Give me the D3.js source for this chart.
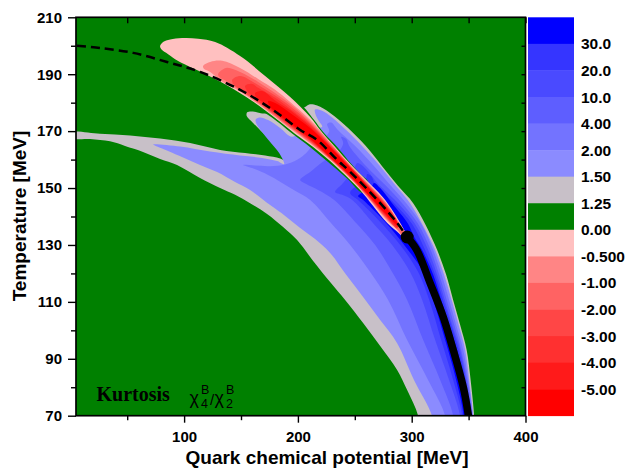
<!DOCTYPE html>
<html lang="en">
<head>
<meta charset="UTF-8">
<title>Kurtosis chi4/chi2 in the T-mu plane</title>
<script src="https://cdn.jsdelivr.net/npm/d3@7"></script>
<style>
    body { margin: 0; background: #fff; }
    svg { display: block; }
    .axis text {
        font-family: "Liberation Sans", Arial, sans-serif;
        font-weight: bold;
        font-size: 15px;
        fill: #000;
    }
    .axis line { stroke: #000; stroke-width: 1.4px; }
    .label {
        font-family: "Liberation Sans", Arial, sans-serif;
        font-weight: bold;
        font-size: 19px;
    }
    .barlabel {
        font-family: "Liberation Sans", Arial, sans-serif;
        font-weight: bold;
        font-size: 15.5px;
    }
</style>
</head>
<body>
<script>
// ---- axes / legend values ----
const xTicks = [100, 200, 300, 400];
const xMinor = [50, 150, 250, 350];
const yTicks = [70, 90, 110, 130, 150, 170, 190, 210];
const yMinor = [80, 100, 120, 140, 160, 180, 200];
const yRight = [80, 90, 100, 110, 120, 130, 140, 150, 160, 170, 180, 190, 200];

const barLabels = ["30.0", "20.0", "10.0", "4.00", "2.00", "1.50", "1.25", "0.00",
                   "-0.500", "-1.00", "-2.00", "-3.00", "-4.00", "-5.00"];
const barColors = ["#0000ff", "#3535ff", "#4a4aff", "#5e5eff", "#7373ff", "#8b8bff",
                   "#c8c0c8", "#008000",
                   "#ffc0c0", "#ff8585", "#ff6363", "#ff4646", "#ff3030", "#ff1a1a", "#ff0000"];

// ---- contour regions, [mu (MeV), T (MeV)] ----
const reg125 = [[-0.2,169.5],[26.1,169.1],[52.5,168.5],[78.9,167.4],[105.3,165.8],[131.6,163.4],[153.6,162.3],[171.2,161.4],[184.4,160.4],[191.4,159.2],[187.0,162.7],[179.1,165.8],[169.4,169.3],[160.6,172.9],[155.0,175.3],[155.4,176.6],[160.4,176.9],[168.5,176.2],[188.8,176.7],[206.3,178.5],[209.9,179.4],[216.9,179.0],[228.3,176.4],[244.1,171.1],[259.1,165.0],[274.0,157.7],[288.1,150.7],[301.3,144.7],[311.8,137.4],[322.4,128.2],[330.3,119.5],[336.4,110.7],[342.6,101.9],[348.3,93.1],[351.8,82.5],[354.9,69.9],[355.8,61.5],[308.3,61.5],[305.7,69.9],[296.0,79.0],[287.2,86.1],[272.3,94.5],[257.3,102.6],[241.5,110.7],[228.3,117.0],[213.4,124.4],[199.3,131.7],[187.0,136.3],[172.9,140.9],[158.0,144.7],[144.8,147.6],[131.6,150.0],[114.0,153.5],[93.8,158.1],[78.9,160.2],[63.9,162.7],[48.1,164.8],[34.9,166.4],[17.4,167.2],[-0.2,167.6]];

const reg150 = [[72.7,165.3],[96.5,164.6],[122.8,162.8],[149.2,161.4],[168.5,160.6],[181.7,159.5],[187.9,158.4],[183.5,162.3],[175.6,166.2],[168.5,169.7],[163.6,172.5],[162.9,174.1],[166.3,174.8],[173.8,173.9],[184.4,171.1],[194.9,168.0],[206.4,171.1],[221.3,171.5],[217.8,173.9],[215.1,176.4],[215.1,177.6],[221.3,177.2],[230.1,174.8],[242.4,170.4],[255.6,165.1],[271.4,158.1],[285.5,151.1],[298.6,144.7],[309.2,137.4],[320.6,128.2],[328.5,119.5],[335.1,110.7],[341.3,101.9],[347.0,93.1],[350.5,82.5],[354.0,69.9],[354.9,61.5],[321.5,61.5],[318.0,69.9],[302.1,82.5],[287.2,95.5],[272.3,103.6],[257.3,111.7],[242.4,119.5],[228.3,127.2],[215.1,132.1],[202.0,136.0],[188.8,140.2],[175.6,144.0],[158.0,149.3],[144.8,152.1],[129.0,155.6],[114.0,158.1],[99.1,160.7],[85.9,163.0],[76.2,164.6]];

const reg200 = [[151.9,158.1],[162.4,157.9],[175.6,157.7],[188.8,158.3],[199.3,159.9],[207.3,162.3],[213.4,165.1],[223.1,167.6],[227.5,170.0],[225.7,172.5],[229.2,173.0],[234.5,170.7],[250.3,164.8],[267.0,157.7],[281.9,150.7],[295.2,144.7],[308.4,137.4],[318.9,128.2],[326.4,119.5],[332.9,110.7],[339.1,101.9],[345.3,93.1],[349.7,82.5],[353.6,69.9],[354.1,61.5],[330.3,61.5],[329.4,69.9],[314.5,82.5],[296.0,96.6],[279.3,110.7],[263.5,120.5],[245.9,130.0],[228.3,138.1],[210.8,145.8],[194.9,149.7],[173.8,154.6],[159.8,157.0]];

const reg400 = [[202.0,152.8],[210.8,155.6],[219.6,158.5],[226.6,160.6],[231.0,161.6],[237.1,163.4],[239.8,165.8],[238.0,168.0],[242.4,167.2],[245.1,164.8],[260.0,157.7],[277.6,150.7],[291.6,144.7],[305.7,137.4],[316.7,128.2],[324.2,119.5],[330.8,110.7],[337.4,101.9],[343.5,93.1],[348.8,82.5],[353.2,69.9],[353.6,61.5],[337.4,61.5],[336.5,69.9],[325.1,82.5],[310.1,96.6],[296.0,110.7],[282.8,120.5],[267.9,130.0],[250.3,138.1],[231.9,145.8],[217.8,149.3],[207.3,151.4]];

const reg1000 = [[232.7,148.6],[238.9,151.4],[244.1,153.9],[247.7,155.7],[250.3,157.7],[252.1,158.8],[257.3,157.7],[272.3,150.7],[288.1,144.7],[303.0,137.4],[314.5,128.2],[322.4,119.5],[329.0,110.7],[335.6,101.9],[342.6,93.1],[347.9,82.5],[352.8,69.9],[353.2,61.5],[343.5,61.5],[342.6,69.9],[332.9,82.5],[320.6,96.6],[309.2,110.7],[298.6,120.5],[282.8,130.0],[265.2,138.1],[247.7,145.8],[238.9,147.6]];

const reg2000 = [[245.9,148.3],[251.2,150.7],[254.7,151.8],[260.0,153.5],[260.9,154.9],[264.4,154.2],[268.8,150.7],[284.6,144.7],[300.4,137.4],[311.8,128.2],[320.6,119.5],[327.6,110.7],[334.7,101.9],[341.3,93.1],[347.4,82.5],[352.8,69.9],[353.2,61.5],[345.3,61.5],[344.4,69.9],[336.5,82.5],[325.9,96.6],[315.4,110.7],[305.7,120.5],[289.9,130.0],[272.3,138.1],[252.9,145.8]];

const reg3000 = [[252.9,147.2],[258.2,148.6],[263.5,149.3],[267.0,151.8],[272.3,150.0],[282.8,144.7],[296.9,137.4],[302.2,132.8],[309.2,128.2],[318.9,119.5],[325.9,110.7],[332.9,101.9],[339.9,93.1],[346.5,82.5],[352.3,69.9],[352.8,61.5],[346.5,61.5],[345.7,69.9],[339.1,82.5],[329.4,96.6],[318.9,110.7],[310.1,120.5],[293.4,130.0],[276.7,138.1],[257.3,145.8]];

// thin 0..1.25 sliver between the two positive lobes and the negative tongue
const gapZero = [[153.6,180.9],[159.8,177.8],[168.6,176.9],[180.0,173.9],[193.2,169.7],[206.4,165.7],[219.6,161.4],[232.7,157.0],[244.1,153.0],[256.5,148.3],[263.5,148.6],[260.8,152.8],[255.6,154.6],[246.8,158.5],[235.3,164.1],[223.0,169.3],[214.3,173.9],[208.1,177.1],[204.6,178.8],[202.0,181.3],[184.4,182.7]];

const neg000 = [[78.9,199.9],[81.5,201.3],[87.7,202.2],[98.2,202.7],[112.3,202.5],[127.3,201.3],[149.2,196.4],[171.2,189.4],[193.2,182.0],[210.8,175.0],[219.6,170.4],[232.7,164.4],[245.9,158.5],[260.9,152.5],[268.8,149.3],[276.7,145.8],[287.3,139.5],[293.4,135.3],[296.9,132.8],[293.4,132.5],[287.3,134.6],[278.5,137.7],[266.1,143.7],[254.7,149.3],[241.5,154.6],[228.3,159.5],[213.4,164.4],[197.6,169.0],[180.0,174.6],[159.8,180.6],[138.7,185.9],[118.5,190.1],[103.5,192.9],[92.1,195.3],[84.2,197.5],[79.8,198.9]];

const neg050 = [[116.7,192.9],[122.9,194.3],[133.4,194.7],[149.2,192.2],[165.1,188.3],[180.0,184.5],[193.2,180.2],[210.8,173.9],[228.3,166.0],[245.9,158.1],[260.9,152.0],[276.7,145.3],[287.3,138.9],[295.2,133.2],[293.4,132.8],[287.3,135.3],[276.7,139.3],[260.9,146.9],[245.9,153.4],[228.3,160.0],[210.8,165.7],[193.2,170.9],[180.0,175.0],[165.1,179.5],[149.2,183.9],[133.4,187.4],[122.9,190.8],[117.6,191.8]];

const neg100 = [[129.9,190.1],[136.9,192.2],[149.2,190.8],[165.1,187.3],[180.0,183.4],[193.2,179.5],[210.8,173.2],[228.3,165.7],[245.9,157.9],[260.9,151.7],[276.7,144.9],[287.3,138.6],[295.2,133.0],[293.4,132.8],[287.3,135.4],[276.7,139.7],[260.9,147.1],[245.9,153.6],[228.3,160.2],[210.8,166.0],[193.2,171.3],[180.0,175.3],[165.1,179.9],[149.2,184.3],[136.9,187.6],[130.8,189.0]];

const neg200 = [[142.2,188.0],[149.2,189.4],[165.1,186.2],[180.0,182.5],[193.2,178.7],[210.8,172.7],[228.3,165.3],[245.9,157.7],[260.9,151.4],[276.7,144.6],[287.3,138.2],[287.3,135.8],[276.7,140.0],[260.9,147.4],[245.9,153.8],[228.3,160.4],[210.8,166.4],[193.2,171.6],[180.0,175.7],[165.1,180.2],[149.2,184.6],[143.1,186.6]];

const neg300 = [[153.6,185.9],[159.8,186.6],[165.1,185.2],[180.0,181.7],[193.2,177.9],[210.8,172.2],[228.3,165.0],[245.9,157.5],[260.9,151.1],[276.7,144.2],[287.3,137.9],[287.3,136.0],[276.7,140.4],[260.9,147.6],[245.9,154.0],[228.3,160.6],[210.8,166.7],[193.2,172.0],[180.0,176.0],[165.1,180.6],[155.4,184.1]];

const neg400 = [[162.4,183.4],[168.6,184.1],[180.0,180.8],[193.2,177.3],[210.8,171.6],[228.3,164.6],[245.9,157.3],[260.9,150.9],[276.7,143.9],[288.1,137.4],[288.1,136.2],[276.7,140.7],[260.9,147.9],[245.9,154.1],[228.3,160.7],[210.8,167.1],[193.2,172.3],[180.0,176.4],[168.6,180.2],[163.3,182.0]];

const neg500 = [[173.8,180.6],[180.0,179.9],[193.2,176.4],[210.8,171.1],[228.3,164.4],[245.9,157.1],[260.9,150.7],[276.7,143.5],[289.9,136.3],[289.9,136.0],[276.7,141.1],[260.9,148.1],[245.9,154.3],[228.3,160.9],[210.8,167.4],[193.2,172.9],[180.0,176.7],[174.7,179.2]];

// crossover (dashed), first order line (solid) and critical point
const crossover = [[5.9,200.0],[26.2,199.2],[55.2,197.5],[85.0,194.3],[114.1,190.8],[149.2,184.5],[178.2,177.4],[202.0,170.4],[216.9,166.9],[234.5,159.9],[245.9,155.7],[272.3,144.7],[287.3,137.7],[296.0,132.8]];
const firstOrder = [[296.0,132.8],[304.5,128.2],[316.2,116.6],[327.7,104.7],[336.5,93.1],[345.3,80.1],[349.9,69.9],[351.4,65.0]];
const critPoint = [296.0, 132.8];

// ---- layout ----
const width = 627, height = 472;
const x = d3.scaleLinear().domain([5, 400]).range([76, 525.5]);
const y = d3.scaleLinear().domain([70, 210]).range([415.7, 17.3]);

const svg = d3.select("body").append("svg")
    .attr("width", width).attr("height", height);

svg.append("defs").append("clipPath").attr("id", "plotclip")
    .append("rect")
    .attr("x", x(5)).attr("y", y(210))
    .attr("width", x(400) - x(5)).attr("height", y(70) - y(210));

const plot = svg.append("g").attr("clip-path", "url(#plotclip)");

plot.append("rect")
    .attr("x", x(5)).attr("y", y(210))
    .attr("width", x(400) - x(5)).attr("height", y(70) - y(210))
    .attr("fill", barColors[7]);

const shape = d3.line()
    .x(d => x(d[0])).y(d => y(d[1]))
    .curve(d3.curveCatmullRomClosed.alpha(0.5));

const layers = [
    {pts: reg125, fill: barColors[6]},
    {pts: reg150, fill: barColors[5]},
    {pts: reg200, fill: barColors[4]},
    {pts: reg400, fill: barColors[3]},
    {pts: reg1000, fill: barColors[2]},
    {pts: reg2000, fill: barColors[1]},
    {pts: reg3000, fill: barColors[0]},
    {pts: gapZero, fill: barColors[7]},
    {pts: neg000, fill: barColors[8]},
    {pts: neg050, fill: barColors[9]},
    {pts: neg100, fill: barColors[10]},
    {pts: neg200, fill: barColors[11]},
    {pts: neg300, fill: barColors[12]},
    {pts: neg400, fill: barColors[13]},
    {pts: neg500, fill: barColors[14]}
];

plot.selectAll("path.region")
    .data(layers)
    .join("path")
    .attr("class", "region")
    .attr("d", d => shape(d.pts))
    .attr("fill", d => d.fill);

const curve = d3.line()
    .x(d => x(d[0])).y(d => y(d[1]))
    .curve(d3.curveCatmullRom.alpha(0.5));

plot.append("path")
    .attr("d", curve(crossover))
    .attr("fill", "none").attr("stroke", "#000")
    .attr("stroke-width", 2.5).attr("stroke-dasharray", "9,5");

plot.append("path")
    .attr("d", curve(firstOrder))
    .attr("fill", "none").attr("stroke", "#000")
    .attr("stroke-width", 7.5).attr("stroke-linecap", "round");

plot.append("circle")
    .attr("cx", x(critPoint[0])).attr("cy", y(critPoint[1]))
    .attr("r", 6.5).attr("fill", "#000");

// ---- axes ----
const axes = svg.append("g").attr("class", "axis");

axes.append("g")
    .attr("transform", `translate(0,${y(70)})`)
    .call(d3.axisBottom(x).tickValues(xTicks).tickSize(7).tickPadding(8.5).tickFormat(d3.format("d")))
    .call(g => g.select(".domain").remove());
axes.append("g")
    .attr("transform", `translate(0,${y(70)})`)
    .call(d3.axisBottom(x).tickValues(xMinor).tickSize(4.5).tickFormat(""))
    .call(g => g.select(".domain").remove());
axes.append("g")
    .attr("transform", `translate(0,${y(210)})`)
    .call(d3.axisTop(x).tickValues(xTicks.concat(xMinor)).tickSize(-6).tickFormat(""))
    .call(g => g.select(".domain").remove());

axes.append("g")
    .attr("transform", `translate(${x(5)},0)`)
    .call(d3.axisLeft(y).tickValues(yTicks).tickSize(8).tickPadding(6).tickFormat(d3.format("d")))
    .call(g => g.select(".domain").remove());
axes.append("g")
    .attr("transform", `translate(${x(5)},0)`)
    .call(d3.axisLeft(y).tickValues(yMinor).tickSize(5).tickFormat(""))
    .call(g => g.select(".domain").remove());
axes.append("g")
    .attr("transform", `translate(${x(400)},0)`)
    .call(d3.axisRight(y).tickValues(yRight).tickSize(-4).tickFormat(""))
    .call(g => g.select(".domain").remove());

svg.append("rect")
    .attr("x", x(5)).attr("y", y(210))
    .attr("width", x(400) - x(5)).attr("height", y(70) - y(210))
    .attr("fill", "none").attr("stroke", "#000").attr("stroke-width", 1.7);

// ---- colour bar ----
const bandY = d3.scaleLinear().domain([0, barColors.length]).range([y(210), y(70)]);

svg.selectAll("rect.band")
    .data(barColors)
    .join("rect")
    .attr("class", "band")
    .attr("x", 528).attr("width", 46)
    .attr("y", (d, i) => bandY(i))
    .attr("height", bandY(1) - bandY(0) + 0.4)
    .attr("fill", d => d);

svg.selectAll("text.barlabel")
    .data(barLabels)
    .join("text")
    .attr("class", "barlabel")
    .attr("x", 581)
    .attr("y", (d, i) => bandY(i + 1))
    .attr("dy", "0.36em")
    .text(d => d);

// ---- titles ----
svg.append("text")
    .attr("class", "label")
    .attr("x", 327).attr("y", 463.5)
    .style("text-anchor", "middle")
    .text("Quark chemical potential [MeV]");

svg.append("text")
    .attr("class", "label")
    .attr("transform", `translate(26,216) rotate(-90)`)
    .style("text-anchor", "middle")
    .text("Temperature [MeV]");

// ---- annotation ----
const note = svg.append("g");
note.append("text")
    .attr("x", 96.5).attr("y", 401)
    .style("font-family", "'Liberation Serif', 'Times New Roman', serif")
    .style("font-weight", "bold").style("font-size", "20px")
    .text("Kurtosis");

const sym = [
    {t: "\u03c7", x: 189.5, y: 403.5, s: 18},
    {t: "B", x: 201, y: 393.5, s: 12.5},
    {t: "4", x: 201, y: 408, s: 12.5},
    {t: "/", x: 210, y: 405, s: 15},
    {t: "\u03c7", x: 214.5, y: 403.5, s: 18},
    {t: "B", x: 226, y: 393.5, s: 12.5},
    {t: "2", x: 226, y: 408, s: 12.5}
];
note.selectAll("text.sym")
    .data(sym)
    .join("text")
    .attr("class", "sym")
    .attr("x", d => d.x).attr("y", d => d.y)
    .style("font-family", "'Liberation Sans', Arial, sans-serif")
    .style("font-size", d => d.s + "px")
    .text(d => d.t);
</script>
</body>
</html>
